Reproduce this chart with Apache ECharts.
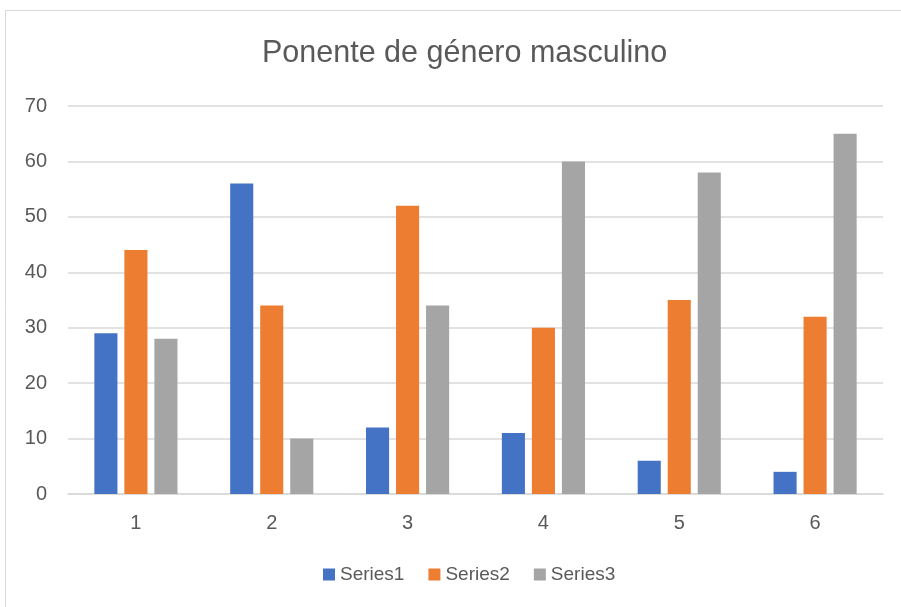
<!DOCTYPE html>
<html><head><meta charset="utf-8">
<script src="https://cdn.jsdelivr.net/npm/echarts@6/dist/echarts.min.js"></script>
<style>html,body{margin:0;padding:0;background:#fff}#c{width:901px;height:607px}</style>
</head><body><div id="c"></div>
<script>
var categories = ['1','2','3','4','5','6'];
var series1 = [29, 56, 12, 11, 6, 4];
var series2 = [44, 34, 52, 30, 35, 32];
var series3 = [28, 10, 34, 60, 58, 65];
var seriesNames = ['Series1','Series2','Series3'];
var colors = ['#4472C4','#ED7D31','#A5A5A5'];

var chart = echarts.init(document.getElementById('c'));
var font = '"Liberation Sans", Arial, sans-serif';
chart.setOption({
  animation: false,
  color: colors,
  graphic: [{type:'rect', shape:{x:5.5,y:10.5,width:910,height:620}, style:{fill:'none', stroke:'#d9d9d9', lineWidth:1}}],
  title: {text:'Ponente de género masculino', left:257, top:33,
    textStyle:{fontFamily:font, fontSize:30.5, fontWeight:'normal', color:'#595959'}},
  legend: {bottom:18, left:318, itemWidth:12, itemHeight:12, itemGap:24, icon:'rect',
    textStyle:{fontFamily:font, fontSize:19, color:'#595959'}, data: seriesNames},
  grid: {left:68, right:18, top:106, bottom:113, containLabel:false},
  xAxis: {type:'category', data:categories,
    axisLine:{lineStyle:{color:'#d9d9d9', width:1.5}}, axisTick:{show:false},
    axisLabel:{fontFamily:font, fontSize:20, color:'#595959', margin:19}},
  yAxis: {type:'value', min:0, max:70, interval:10,
    axisLine:{show:false}, axisTick:{show:false},
    splitLine:{lineStyle:{color:'#d9d9d9', width:1.5}},
    axisLabel:{fontFamily:font, fontSize:20, color:'#595959', margin:21}},
  series: [
    {name:seriesNames[0], type:'bar', data:series1, barWidth:'17%', barGap:'30%'},
    {name:seriesNames[1], type:'bar', data:series2, barWidth:'17%', barGap:'30%'},
    {name:seriesNames[2], type:'bar', data:series3, barWidth:'17%', barGap:'30%'}
  ]
});
</script></body></html>
